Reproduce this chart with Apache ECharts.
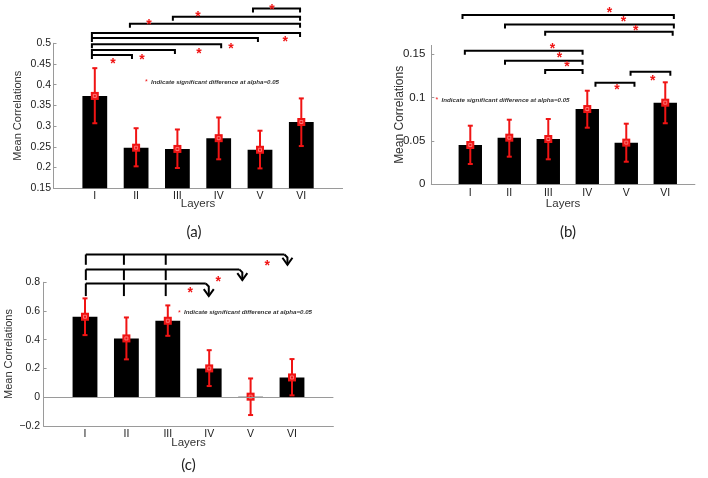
<!DOCTYPE html>
<html><head><meta charset="utf-8">
<script src="https://cdn.jsdelivr.net/npm/echarts@6/dist/echarts.min.js"></script>
<style>html,body{margin:0;padding:0;background:#fff;}#c{width:708px;height:478px;}</style>
</head><body><div id="c"></div>
<script>
const CATEGORIES = ['I','II','III','IV','V','VI'];
// panel (a)
const A_MEAN = [0.373,0.248,0.245,0.271,0.243,0.310];
const A_LOW  = [0.307,0.203,0.199,0.220,0.198,0.252];
const A_HIGH = [0.440,0.295,0.292,0.321,0.289,0.367];
// panel (b)
const B_MEAN = [0.0453,0.0537,0.0522,0.0867,0.0480,0.0940];
const B_LOW  = [0.0234,0.0318,0.0288,0.0652,0.0260,0.0703];
const B_HIGH = [0.0675,0.0744,0.0752,0.1078,0.0698,0.1175];
// panel (c)
const C_MEAN = [0.560,0.409,0.532,0.200,0.003,0.137];
const C_LOW  = [0.432,0.263,0.427,0.077,-0.125,0.012];
const C_HIGH = [0.688,0.555,0.639,0.327,0.130,0.265];
// significance brackets: [from, to, level] in axis units
const A_BRACKETS = [[0.93,1.90,0.472],[0.93,2.94,0.484],[0.93,4.06,0.498],[0.93,4.95,0.513],[0.93,5.97,0.525],[1.85,5.97,0.547],[2.89,5.97,0.564],[4.83,5.97,0.584]];
const A_STARS = [[1.44,0.457],[2.14,0.467],[3.52,0.481],[4.30,0.493],[5.61,0.510],[2.31,0.551],[3.50,0.571],[5.29,0.588]];
const B_BRACKETS = [[0.80,6.22,0.195],[1.89,6.22,0.184],[2.92,6.19,0.1758],[0.86,3.88,0.1539],[1.89,3.88,0.1424],[2.92,3.88,0.1317],[4.21,5.21,0.117],[5.11,6.13,0.1297]];
const B_STARS = [[4.57,0.2008],[4.93,0.1904],[5.24,0.1797],[3.11,0.1593],[3.29,0.149],[3.48,0.1382],[4.76,0.1117],[5.68,0.1228]];
// panel (c) arrows: [from, to, level, lower level]
const C_ARROWS = [[1.02,5.89,0.994,0.922],[1.02,4.80,0.890,0.815],[1.02,3.99,0.792,0.704]];
const C_ARROW_TICKS = [1.02,1.94,2.95];
const C_STARS = [[5.40,0.934],[4.22,0.824],[3.54,0.744]];
const NOTE = 'Indicate significant difference at alpha=0.05';

const RED = '#f01414';
const AXIS = '#9a9a9a';
const FONT = "'Liberation Sans', Arial, Helvetica, sans-serif";

function rows(mean, low, high){ return CATEGORIES.map((c,i)=>[i+1, mean[i], low[i], high[i]]); }

function barItem(params, api){
  const x = api.value(0), v = api.value(1);
  const p1 = api.coord([x-0.3, v]);
  const p0 = api.coord([x+0.3, 0]);
  return {type:'rect', shape:{x:p1[0], y:Math.min(p1[1],p0[1]), width:p0[0]-p1[0], height:Math.max(Math.abs(p0[1]-p1[1]),0.8)}, style:{fill:'#000'}};
}
function errItem(params, api){
  const x = api.value(0);
  const m = api.coord([x, api.value(1)]);
  const lo = api.coord([x, api.value(2)]);
  const hi = api.coord([x, api.value(3)]);
  const st = {stroke:RED, lineWidth:2};
  return {type:'group', children:[
    {type:'line', shape:{x1:lo[0],y1:lo[1],x2:hi[0],y2:hi[1]}, style:st},
    {type:'line', shape:{x1:lo[0]-2.5,y1:lo[1],x2:lo[0]+2.5,y2:lo[1]}, style:st},
    {type:'line', shape:{x1:hi[0]-2.5,y1:hi[1],x2:hi[0]+2.5,y2:hi[1]}, style:st},
    {type:'rect', shape:{x:m[0]-4,y:m[1]-4,width:8,height:8}, style:{fill:RED}},
    {type:'rect', shape:{x:m[0]-1.5,y:m[1]-1.5,width:3,height:3}, style:{fill:'none', stroke:'#ff8a8a', lineWidth:0.8}}
  ]};
}
function bracketItem(params, api){
  const a = api.coord([api.value(0), api.value(2)]);
  const b = api.coord([api.value(1), api.value(2)]);
  return {type:'polyline', shape:{points:[[a[0],a[1]+4],[a[0],a[1]],[b[0],b[1]],[b[0],b[1]+4]]}, style:{stroke:'#000', lineWidth:2, fill:null}};
}
function starItem(params, api){
  const p = api.coord([api.value(0), api.value(1)]);
  return {type:'text', x:p[0], y:p[1]+3, style:{text:'*', fill:RED, font:'bold 14px '+FONT, align:'center', verticalAlign:'middle'}};
}
function arrowItem(params, api){
  const y = api.value(2), yb = api.value(3);
  const p1 = api.coord([api.value(0), y]);
  const p2 = api.coord([api.value(1), y]);
  const tip = api.coord([api.value(1), yb]);
  const st = {stroke:'#000', lineWidth:2, fill:null};
  const ch = [
    {type:'polyline', shape:{points:[[p2[0]-3,p2[1]],[p2[0],p2[1]+3],[tip[0],tip[1]]]}, style:st},
    {type:'polyline', shape:{points:[[tip[0]-5,tip[1]-7],[tip[0],tip[1]],[tip[0]+5,tip[1]-7]]}, style:st}
  ];
  C_ARROW_TICKS.forEach(t=>{
    const a = api.coord([t, y]), b = api.coord([t, yb]);
    ch.push({type:'line', shape:{x1:a[0],y1:a[1],x2:b[0],y2:b[1]}, style:st});
  });
  ch.push({type:'line', shape:{x1:p1[0],y1:p1[1],x2:p2[0]-3,y2:p2[1]}, style:st});
  return {type:'group', children:ch};
}

function xAxisDef(g, max, labelMargin, nameGap){
  return {type:'value', gridIndex:g, min:0, max:max, interval:1,
    axisLine:{show:true, onZero:false, lineStyle:{color:AXIS, width:1}},
    axisTick:{show:false}, splitLine:{show:false},
    axisLabel:{color:'#1a1a1a', fontSize:10.5, fontFamily:FONT, margin:labelMargin,
      formatter:v=>{const r=Math.round(v); return (Math.abs(v-r)<1e-6 && r>=1 && r<=CATEGORIES.length)?CATEGORIES[r-1]:'';}},
    name:'Layers', nameLocation:'middle', nameGap:nameGap, nameMoveOverlap:false,
    nameTextStyle:{color:'#333', fontSize:11.5, fontFamily:FONT}};
}
function yAxisDef(g, min, max, interval, labelSize, labelMargin, nameSize, nameGap){
  return {type:'value', gridIndex:g, min:min, max:max, interval:interval,
    axisLine:{show:true, lineStyle:{color:AXIS, width:1}},
    axisTick:{show:true, inside:true, length:3, lineStyle:{color:AXIS}},
    splitLine:{show:false},
    axisLabel:{color:'#1a1a1a', fontSize:labelSize, fontFamily:FONT, margin:labelMargin, showMaxLabel: g!==1,
      formatter:v=>{const s = String(+v.toFixed(4)); return s.replace('-', '\u2212');}},
    name:'Mean Correlations', nameLocation:'middle', nameGap:nameGap, nameMoveOverlap:false,
    nameTextStyle:{color:'#333', fontSize:nameSize, fontFamily:FONT}};
}

function panelSeries(g, mean, low, high, extra){
  const d = rows(mean, low, high);
  const s = [
    {type:'custom', xAxisIndex:g, yAxisIndex:g, renderItem:barItem, clip:true, encode:{x:0, y:1}, data:d, silent:true, z:2},
    {type:'custom', xAxisIndex:g, yAxisIndex:g, renderItem:errItem, clip:false, encode:{x:0, y:[1,2,3]}, data:d, silent:true, z:3}
  ];
  return s.concat(extra);
}

const noteText = (x, y) => ({type:'text', x:x, y:y, style:{
  text:'{s|*} {t|'+NOTE+'}', verticalAlign:'middle',
  rich:{s:{fill:RED, fontSize:7, fontFamily:FONT}, t:{fill:'#333', fontSize:6.2, fontWeight:'bold', fontStyle:'italic', fontFamily:FONT}}}});
const panelLabel = (txt, x, y) => ({type:'text', x:x, y:y, style:{text:txt, fill:'#222', font:"15px Lato, 'Open Sans', sans-serif", align:'center', verticalAlign:'middle'}});

const chart = echarts.init(document.getElementById('c'), null, {renderer:'canvas'});
chart.setOption({
  animation:false,
  backgroundColor:'#fff',
  grid:[
    {left:53.5, top:43.3, width:289.1, height:145, containLabel:false},
    {left:431.3, top:45.4, width:263.6, height:138.9, containLabel:false},
    {left:43.6, top:282.3, width:289.8, height:143.5, containLabel:false}
  ],
  xAxis:[ xAxisDef(0, 7, 2, 10), xAxisDef(1, 6.76, 3, 14), xAxisDef(2, 7, 3, 11.5) ],
  yAxis:[ yAxisDef(0, 0.15, 0.5, 0.05, 10.5, 2.5, 11, 30.5),
          yAxisDef(1, 0, 0.16, 0.05, 11.5, 6, 12, 26),
          yAxisDef(2, -0.2, 0.8, 0.2, 10.5, 3.5, 11, 28.8) ],
  series: [].concat(
    panelSeries(0, A_MEAN, A_LOW, A_HIGH, [
      {type:'custom', xAxisIndex:0, yAxisIndex:0, renderItem:bracketItem, clip:false, encode:{x:[0,1], y:2}, data:A_BRACKETS, silent:true},
      {type:'custom', xAxisIndex:0, yAxisIndex:0, renderItem:starItem, clip:false, encode:{x:0, y:1}, data:A_STARS, silent:true}
    ]),
    panelSeries(1, B_MEAN, B_LOW, B_HIGH, [
      {type:'custom', xAxisIndex:1, yAxisIndex:1, renderItem:bracketItem, clip:false, encode:{x:[0,1], y:2}, data:B_BRACKETS, silent:true},
      {type:'custom', xAxisIndex:1, yAxisIndex:1, renderItem:starItem, clip:false, encode:{x:0, y:1}, data:B_STARS, silent:true}
    ]),
    panelSeries(2, C_MEAN, C_LOW, C_HIGH, [
      {type:'custom', xAxisIndex:2, yAxisIndex:2, renderItem:arrowItem, clip:false, encode:{x:[0,1], y:[2,3]}, data:C_ARROWS, silent:true},
      {type:'custom', xAxisIndex:2, yAxisIndex:2, renderItem:starItem, clip:false, encode:{x:0, y:1}, data:C_STARS, silent:true},
      {type:'line', xAxisIndex:2, yAxisIndex:2, data:[], silent:true,
        markLine:{silent:true, symbol:['none','none'], label:{show:false}, lineStyle:{color:AXIS, width:1, type:'solid'}, data:[{yAxis:0}]}}
    ])
  ),
  graphic:[
    noteText(145, 82.5), noteText(435.5, 100), noteText(178, 312.7),
    panelLabel('(a)', 194, 232), panelLabel('(b)', 568, 232), panelLabel('(c)', 188.5, 465)
  ]
});
</script></body></html>
